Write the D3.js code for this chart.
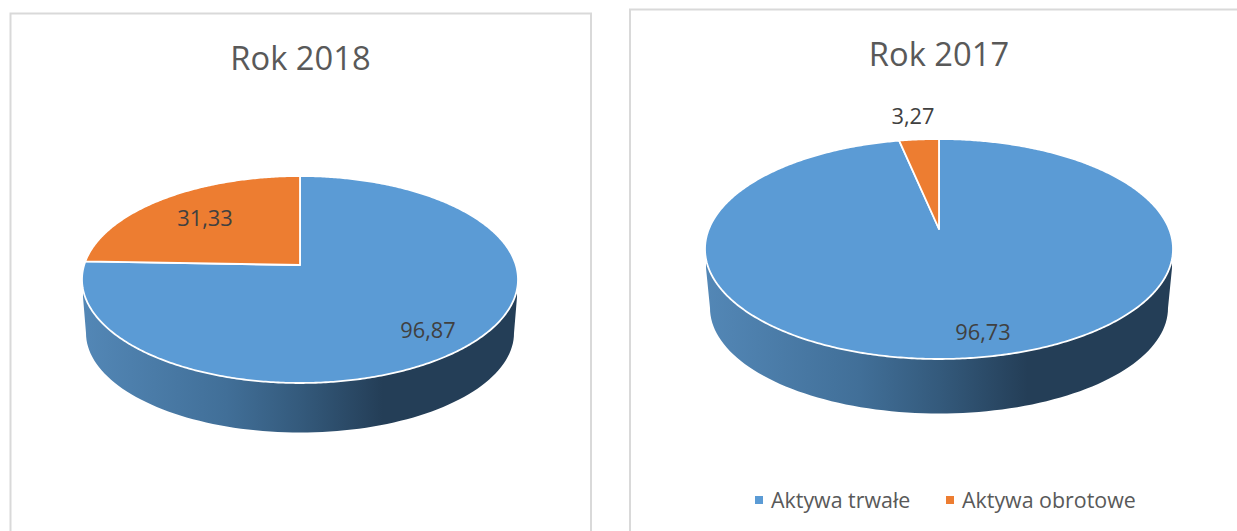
<!DOCTYPE html>
<html><head><meta charset="utf-8">
<style>html,body{margin:0;padding:0;background:#fff;overflow:hidden}svg{display:block}text{font-family:"Open Sans",sans-serif}</style>
<script src="https://cdn.jsdelivr.net/npm/d3@7/dist/d3.min.js"></script>
</head><body><svg id="c" width="1237" height="531"></svg>
<script>
const categories = ["Aktywa trwałe", "Aktywa obrotowe"];
const titles = ["Rok 2018", "Rok 2017"];
const values2018 = [96.87, 31.33];
const values2017 = [96.73, 3.27];
const colors = ["#5b9bd5", "#ed7d31"];

const panels = [
 {title:titles[0], values:values2018, box:[10.5,13.5,591], titleXY:[300.5,69.5],
  cx:300, apexY:265, topUp:89, botDown:118, rx:218, side:{startY:297,cy:333,rx:214,bottom:432.5},
  labels:[[428,338],[205,226]]},
 {title:titles[1], values:values2017, box:[630,9.5,1238], titleXY:[939,65.5],
  cx:939, apexY:229, topUp:90, botDown:130, rx:234, side:{startY:268,cy:308,rx:229,bottom:413.5},
  labels:[[983,340],[913,124]]}
];

const svg = d3.select("#c");
const defs = svg.append("defs");
const pieGen = d3.pie().sort(null).value(d=>d);
const line = d3.line();
const fmt = v => String(v).replace(".", ",");

panels.forEach((p,i)=>{
  const k = (p.botDown-p.topUp)/(p.botDown+p.topUp);
  const b = p.topUp*(1+k);
  const a = p.rx*Math.sqrt(1-k*k);
  const proj = t => {
    const x=Math.sin(t), y=-Math.cos(t), w=1-k*y;
    return [p.cx+a*x/w, p.apexY+b*y/w];
  };
  const g = svg.append("g");
  // frame
  const [x0,y0,x1]=p.box;
  g.append("path").attr("d",line([[x0,531],[x0,y0],[x1,y0],[x1,531]]))
    .attr("fill","none").attr("stroke","#d9d9d9").attr("stroke-width",2);
  // title
  g.append("text").attr("x",p.titleXY[0]).attr("y",p.titleXY[1]).attr("text-anchor","middle")
    .attr("font-size",32.7).attr("fill","#595959").text(p.title);
  // side wall
  const grad = defs.append("linearGradient").attr("id","side"+i);
  [[0,"#5387b6"],[.33,"#416f98"],[.5,"#345a7c"],[.69,"#243e57"],[1,"#243e57"]]
    .forEach(s=>grad.append("stop").attr("offset",s[0]).attr("stop-color",s[1]));
  const s=p.side, sry=s.bottom-s.cy;
  const lower=d3.range(0,180.5,2).map(d=>{
    const t=d*Math.PI/180;
    return [p.cx-s.rx*Math.cos(t), s.cy+sry*Math.sin(t)];
  });
  const left=p.cx-p.rx, right=p.cx+p.rx;
  g.append("path").attr("fill",`url(#side${i})`)
    .attr("d",line([[left+1,s.startY-8],[left+1,s.startY],...lower,[right-1,s.startY],[right-1,s.startY-8]])+"Z");
  // top slices
  const arcs=pieGen(p.values);
  arcs.forEach((d,j)=>{
    const n=Math.max(2,Math.ceil((d.endAngle-d.startAngle)/0.01));
    const pts=d3.range(n+1).map(q=>proj(d.startAngle+(d.endAngle-d.startAngle)*q/n));
    g.append("path").attr("d",line([[p.cx,p.apexY],...pts])+"Z")
      .attr("fill",colors[j]).attr("stroke","#fff").attr("stroke-width",1.8).attr("stroke-linejoin","round");
  });
  // labels
  arcs.forEach((d,j)=>{
    g.append("text").attr("x",p.labels[j][0]).attr("y",p.labels[j][1]).attr("text-anchor","middle")
      .attr("font-size",21.8).attr("fill","#404040").text(fmt(d.data));
  });
});

// legend
const legendX=[755,946];
categories.forEach((c,j)=>{
  svg.append("rect").attr("x",legendX[j]).attr("y",496).attr("width",8).attr("height",8).attr("fill",colors[j]);
  svg.append("text").attr("x",legendX[j]+16).attr("y",507.5).attr("font-size",21.4).attr("fill","#595959").text(c);
});
</script></body></html>
